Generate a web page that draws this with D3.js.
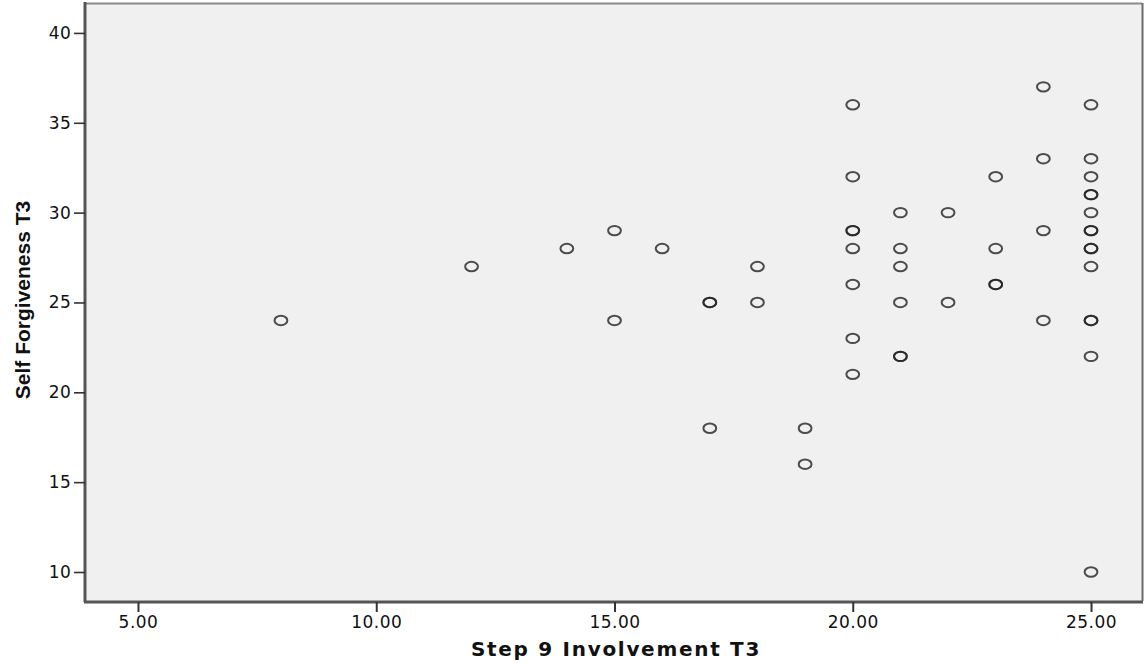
<!DOCTYPE html>
<html><head><meta charset="utf-8">
<script src="https://cdn.jsdelivr.net/npm/d3@7"></script>
<style>body{margin:0;background:#fff}svg{display:block}</style>
</head><body>
<svg id="chart" width="1144" height="664"></svg>
<script>
// Data: Step 9 Involvement T3 (x) vs Self Forgiveness T3 (y)
const xValues = [8,12,14,15,15,16,17,17,17,18,18,19,19,
  20,20,20,20,20,20,20,20,
  21,21,21,21,21,21,
  22,22,
  23,23,23,23,
  24,24,24,24,
  25,25,25,25,25,25,25,25,25,25,25,25,25,25,25];
const yValues = [24,27,28,29,24,28,25,25,18,27,25,18,16,
  36,32,29,29,28,26,23,21,
  30,28,27,25,22,22,
  30,25,
  32,28,26,26,
  37,33,29,24,
  36,33,32,31,31,30,29,29,28,28,27,24,24,22,10];
const xTicks = [5,10,15,20,25];
const yTicks = [10,15,20,25,30,35,40];
const xTitle = "Step 9 Involvement T3";
const yTitle = "Self Forgiveness T3";

const svg = d3.select("#chart");
const L = 86, T = 4, R = 1142, B = 601;
const x = d3.scaleLinear().domain([3.909, 26.07]).range([L, R]);
const y = d3.scaleLinear().domain([8.386, 41.61]).range([B, T]);

// plot background
svg.append("rect").attr("x", L).attr("y", T).attr("width", R - L).attr("height", B - T)
  .attr("fill", "#f0f0f0");
// top & right frame
svg.append("line").attr("x1", L).attr("x2", R).attr("y1", T - 0.5).attr("y2", T - 0.5)
  .attr("stroke", "#8a8a8a").attr("stroke-width", 2);
svg.append("line").attr("x1", R + 0.5).attr("x2", R + 0.5).attr("y1", T - 1).attr("y2", B)
  .attr("stroke", "#6a6a6a").attr("stroke-width", 2);

// axes
const fontTick = "'DejaVu Sans', Verdana, sans-serif";
const yAxis = d3.axisLeft(y).tickValues(yTicks).tickSize(11).tickPadding(3).tickFormat(d3.format("d"));
const gy = svg.append("g").attr("transform", `translate(${L - 1},0)`).call(yAxis);
gy.select(".domain").attr("stroke", "#555").attr("stroke-width", 3);
gy.selectAll(".tick line").attr("stroke", "#333").attr("stroke-width", 1.6);
gy.selectAll(".tick text").attr("font-family", fontTick).attr("font-size", 17)
  .attr("letter-spacing", "0.3px").attr("fill", "#111");

const xAxis = d3.axisBottom(x).tickValues(xTicks).tickSize(10).tickPadding(4).tickFormat(d3.format(".2f"));
const gx = svg.append("g").attr("transform", `translate(0,${B + 1})`).call(xAxis);
gx.select(".domain").attr("stroke", "#555").attr("stroke-width", 3);
gx.selectAll(".tick line").attr("stroke", "#333").attr("stroke-width", 2);
gx.selectAll(".tick text").attr("font-family", fontTick).attr("font-size", 17)
  .attr("letter-spacing", "0.5px").attr("fill", "#111");
gy.select(".domain").attr("d", `M0,${T - 2}V${B + 1}`);
gx.select(".domain").attr("d", `M${L - 2},0H${R + 1}`);

// points
const pts = xValues.map((v, i) => ({x: v, y: yValues[i]}));
svg.append("g").selectAll("ellipse").data(pts).join("ellipse")
  .attr("cx", d => x(d.x)).attr("cy", d => y(d.y))
  .attr("rx", 6.4).attr("ry", 4.7)
  .attr("fill", "none").attr("stroke", "#222").attr("stroke-width", 2).attr("stroke-opacity", 0.8);

// titles
svg.append("text").attr("x", 616).attr("y", 656).attr("text-anchor", "middle")
  .attr("font-family", "'DejaVu Sans', Verdana, sans-serif").attr("font-weight", "bold")
  .attr("font-size", 20).attr("letter-spacing", "1.7px").attr("fill", "#111").text(xTitle);
svg.append("text").attr("transform", "translate(30,300) rotate(-90)").attr("text-anchor", "middle")
  .attr("font-family", "'Liberation Sans Narrow', 'Arial Narrow', 'Liberation Sans', sans-serif")
  .attr("font-weight", "bold").attr("font-size", 21).attr("fill", "#111").text(yTitle);
</script>
</body></html>
